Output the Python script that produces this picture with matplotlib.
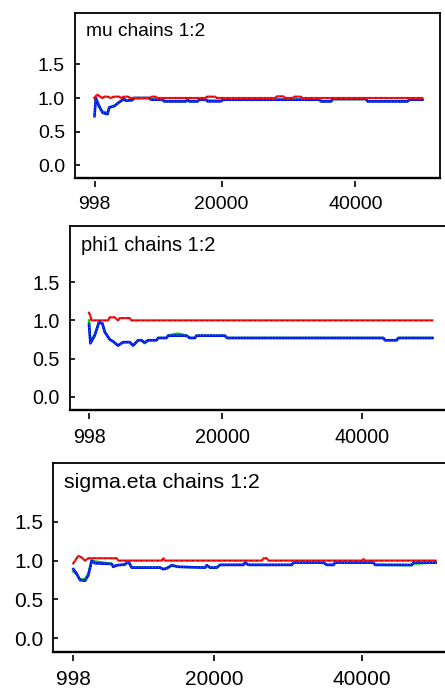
import matplotlib
matplotlib.use('Agg')
import matplotlib.pyplot as plt
from matplotlib.ticker import FixedLocator

plt.rcParams['font.family'] = ['Liberation Sans', 'DejaVu Sans']

# ---------------- data ----------------
titles = ['mu chains 1:2', 'phi1 chains 1:2', 'sigma.eta chains 1:2']
x_tick_values = [998, 20000, 40000]
x_tick_labels = ['998', '20000', '40000']
y_tick_values = [0.0, 0.5, 1.0, 1.5]
y_tick_labels = ['0.0', '0.5', '1.0', '1.5']

# mu
mu_ratio_x = [998, 1200, 1450, 1700, 2150, 2500, 3000, 3400, 3900, 4700, 5000, 5400, 6000, 6300,
              9200, 9600, 10100, 10400, 17600, 17800, 19000, 19300, 28000, 28300, 29200, 29500,
              30600, 30900, 31800, 32100, 50000]
mu_ratio = [1.0, 1.03, 1.05, 1.03, 1.0, 1.02, 1.02, 1.0, 1.02, 1.02, 1.0, 1.02, 1.02, 1.0,
            1.0, 1.02, 1.02, 1.0, 1.0, 1.02, 1.02, 1.0, 1.0, 1.025, 1.025, 1.0,
            1.0, 1.02, 1.02, 1.0, 1.0]
mu_width_x = [998, 1200, 1700, 2200, 2950, 3200, 3950, 4700, 5440, 5700, 6680, 6900, 9200, 9450,
              11170, 11430, 14670, 14920, 15170, 16410, 16660, 17660, 17900, 19900, 20200, 34600,
              34850, 36360, 36600, 41600, 41850, 47800, 48050, 50000]
mu_pooled = [1.0, 0.95, 0.86, 0.80, 0.78, 0.86, 0.88, 0.94, 0.985, 0.96, 0.97, 1.0, 1.0, 0.975,
             0.975, 0.95, 0.95, 0.98, 0.95, 0.95, 0.975, 0.975, 0.965, 0.96, 0.975, 0.975,
             0.95, 0.95, 0.985, 0.985, 0.95, 0.95, 0.975, 0.975]
mu_within = [0.73, 1.0, 0.88, 0.78, 0.76, 0.86, 0.88, 0.94, 0.985, 0.96, 0.97, 1.0, 1.0, 0.975,
             0.975, 0.95, 0.95, 0.98, 0.95, 0.95, 0.975, 0.975, 0.95, 0.95, 0.975, 0.975,
             0.95, 0.95, 0.985, 0.985, 0.95, 0.95, 0.975, 0.975]

# phi1
phi1_ratio_x = [998, 1200, 1340, 3700, 3960, 4670, 5140, 5380, 6810, 7050, 50000]
phi1_ratio = [1.10, 1.06, 1.0, 1.0, 1.04, 1.04, 1.0, 1.03, 1.03, 1.0, 1.0]
phi1_width_x = [998, 1200, 1810, 2430, 2910, 3240, 3960, 4430, 5140, 5860, 6810, 7290, 8000, 8480,
                8950, 9430, 10620, 10860, 12050, 12290, 13400, 13900, 14910, 15380, 16100, 16340,
                20380, 20710, 43000, 43240, 44910, 45140, 50000]
phi1_pooled = [1.0, 0.72, 0.81, 0.985, 0.96, 0.85, 0.75, 0.725, 0.67, 0.715, 0.715, 0.67, 0.74, 0.74,
               0.70, 0.74, 0.74, 0.77, 0.77, 0.80, 0.825, 0.825, 0.80, 0.77, 0.77, 0.80,
               0.80, 0.77, 0.77, 0.74, 0.74, 0.77, 0.77]
phi1_within = [0.95, 0.70, 0.80, 0.975, 0.96, 0.85, 0.75, 0.725, 0.67, 0.715, 0.715, 0.67, 0.74, 0.74,
               0.71, 0.74, 0.74, 0.77, 0.77, 0.80, 0.80, 0.80, 0.80, 0.77, 0.77, 0.80,
               0.80, 0.77, 0.77, 0.74, 0.74, 0.77, 0.77]

# sigma.eta
sig_ratio_x = [998, 1670, 2130, 2580, 3030, 6870, 7090, 12950, 13180, 13400, 26500, 26710, 27160,
               27400, 40000, 40240, 40480, 50000]
sig_ratio = [0.965, 1.06, 1.04, 1.0, 1.03, 1.03, 1.0, 1.0, 1.03, 1.0, 1.0, 1.03, 1.03,
             1.0, 1.0, 1.02, 1.0, 1.0]
sig_width_x = [998, 1450, 1900, 2580, 3030, 3490, 3930, 6190, 6410, 6870, 7990, 8440, 8900, 12730,
               13180, 13630, 14310, 15210, 18820, 19050, 19490, 20400, 20850, 24000, 24230, 24680,
               30550, 30770, 34830, 35280, 36180, 36410, 41590, 41820, 46790, 47010, 50000]
sig_pooled = [0.86, 0.82, 0.76, 0.76, 0.83, 1.0, 0.99, 0.96, 0.92, 0.94, 0.95, 0.99, 0.91, 0.91,
              0.89, 0.90, 0.94, 0.92, 0.91, 0.94, 0.91, 0.91, 0.945, 0.945, 0.975, 0.945,
              0.945, 0.975, 0.975, 0.945, 0.945, 0.975, 0.975, 0.945, 0.94, 0.96, 0.975]
sig_within = [0.89, 0.835, 0.75, 0.74, 0.81, 1.0, 0.965, 0.957, 0.92, 0.94, 0.95, 0.99, 0.91, 0.91,
              0.89, 0.90, 0.94, 0.92, 0.91, 0.94, 0.91, 0.91, 0.945, 0.945, 0.975, 0.945,
              0.945, 0.975, 0.975, 0.945, 0.945, 0.975, 0.975, 0.945, 0.945, 0.975, 0.975]

series = [
    (mu_ratio_x, mu_ratio, mu_width_x, mu_pooled, mu_within),
    (phi1_ratio_x, phi1_ratio, phi1_width_x, phi1_pooled, phi1_within),
    (sig_ratio_x, sig_ratio, sig_width_x, sig_pooled, sig_within),
]

# ---------------- layout (pixels) ----------------
W, H = 445, 695
layout = [
    dict(box=(75, 13, 440, 178), xlim=(-1917, 52642), ylim=(-0.19, 2.265), fs=14.0, tfs=13.8),
    dict(box=(70, 226, 470, 410), xlim=(-1714, 55372), ylim=(-0.174, 2.237), fs=14.2, tfs=14.4),
    dict(box=(53, 463, 470, 652), xlim=(-1747, 54650), ylim=(-0.176, 2.256), fs=15.0, tfs=15.4),
]

fig = plt.figure(figsize=(W / 100, H / 100), dpi=100)
fig.patch.set_facecolor('white')

for (rx, ry, wx, pooled, within), title, lay in zip(series, titles, layout):
    l, t, r, b = lay['box']
    wpx, hpx = r - l, b - t
    ax = fig.add_axes([l / W, 1 - b / H, wpx / W, hpx / H])
    ax.set_xlim(*lay['xlim'])
    ax.set_ylim(*lay['ylim'])
    for side, sp in ax.spines.items():
        sp.set_linewidth(1.3)
        sp.set_color('black')
    ax.spines['bottom'].set_linewidth(1.7)

    ax.plot(wx, pooled, color='#00d000', lw=1.7, zorder=2)
    ax.plot(wx, within, color='#0010f0', lw=1.9, zorder=3)
    ax.plot(wx, within, color='#4aa0ff', lw=0.6, dashes=(1, 2.5), zorder=3.1)
    ax.plot(rx, ry, color='#ff1010', lw=1.6, zorder=4)
    ax.plot(rx, ry, color='#8a0000', lw=0.7, dashes=(1.5, 4), zorder=4.1)

    ax.set_xticks([])
    ax.yaxis.set_major_locator(FixedLocator(y_tick_values))
    ax.set_yticklabels(y_tick_labels)
    ax.tick_params(axis='y', direction='in', length=3.5, width=1.2, pad=7.2,
                   labelsize=lay['fs'], colors='black')

    sec = ax.secondary_xaxis(-3.0 / hpx)
    sec.set_xticks(x_tick_values)
    sec.set_xticklabels(x_tick_labels)
    sec.spines['bottom'].set_visible(False)
    sec.tick_params(axis='x', direction='out', length=4.5, width=1.2, pad=6.5,
                    labelsize=lay['fs'])

    ax.text(11.0 / wpx, 1 - 10.0 / hpx, title, transform=ax.transAxes,
            ha='left', va='top', fontsize=lay['tfs'], color='black')

fig.savefig('out.png', dpi=100, facecolor='white')
